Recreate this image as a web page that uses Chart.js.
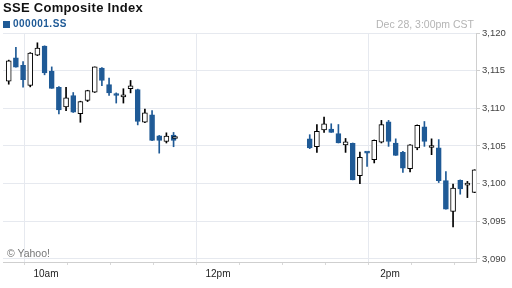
<!DOCTYPE html>
<html>
<head>
<meta charset="utf-8">
<script src="https://cdn.jsdelivr.net/npm/chart.js@4.4.1/dist/chart.umd.min.js"></script>
<style>
  html, body { margin: 0; padding: 0; background: #fff; }
  #wrap { position: relative; width: 512px; height: 288px; overflow: hidden; font-family: Arial, "Liberation Sans", sans-serif; }
  #chart { position: absolute; left: 0; top: 0; }
  .txt { position: absolute; line-height: 1; white-space: nowrap; }
  #title { left: 3px; top: 1px; font-size: 13px; font-weight: bold; color: #111; letter-spacing: 0.3px; }
  #sym { left: 13px; top: 19px; font-size: 10px; font-weight: bold; color: #1f5a96; letter-spacing: 0.5px; }
  #swatch { position: absolute; left: 3px; top: 21px; width: 7px; height: 7px; background: #1f5a96; }
  #stamp { right: 38px; top: 18.5px; font-size: 10.5px; color: #b4b4b4; }
  #credit { left: 7px; top: 248px; font-size: 10.5px; color: #777; }
</style>
</head>
<body>
<div id="wrap">
  <canvas id="chart" width="512" height="288"></canvas>
  <div class="txt" id="title">SSE Composite Index</div>
  <div id="swatch"></div>
  <div class="txt" id="sym">000001.SS</div>
  <div class="txt" id="stamp">Dec 28, 3:00pm CST</div>
  <div class="txt" id="credit">© Yahoo!</div>
</div>
<script>
// 5-minute bars, end time of each bar
const times = [
  "9:35","9:40","9:45","9:50","9:55","10:00","10:05","10:10","10:15","10:20","10:25","10:30",
  "10:35","10:40","10:45","10:50","10:55","11:00","11:05","11:10","11:15","11:20","11:25","11:30","11:31",
  "13:05","13:10","13:15","13:20","13:25","13:30","13:35","13:40","13:45","13:50","13:55","14:00",
  "14:05","14:10","14:15","14:20","14:25","14:30","14:35","14:40","14:45","14:50","14:55","15:00"
];
const openVals = [
  3113.6,3116.7,3115.7,3113.05,3117.05,3118.25,3114.95,3112.8,3110.2,3111.7,3109.3,3111.05,
  3112.15,3115.35,3113.15,3111.95,3111.5,3112.6,3112.5,3108.15,3109.15,3106.35,3105.6,3106.45,3106.0,
  3105.95,3104.9,3107.15,3107.25,3106.65,3105.15,3105.35,3101.05,3104.1,3103.2,3105.5,3108.2,
  3105.4,3104.15,3102.0,3104.75,3107.55,3104.8,3104.75,3100.4,3096.3,3100.45,3099.8,3098.85
];
const highVals = [
  3116.4,3118.1,3116.2,3117.4,3118.7,3118.3,3115.5,3112.9,3112.8,3112.1,3110.95,3112.4,
  3115.5,3115.4,3114.0,3112.05,3112.6,3113.7,3112.55,3109.9,3109.7,3106.4,3106.75,3106.8,3106.0,
  3106.5,3107.85,3108.85,3107.95,3107.85,3106.0,3105.4,3104.2,3104.2,3105.8,3108.4,3108.4,
  3105.95,3104.3,3105.2,3107.8,3108.25,3105.95,3105.85,3101.6,3099.95,3100.5,3100.3,3101.85
];
const lowVals = [
  3113.2,3115.45,3112.8,3112.85,3117.0,3114.45,3112.65,3109.25,3109.7,3109.45,3108.15,3110.9,
  3112.1,3113.0,3111.7,3110.7,3110.7,3112.05,3107.8,3108.1,3105.7,3104.05,3105.4,3104.9,3106.0,
  3104.65,3104.15,3106.8,3106.8,3105.4,3104.15,3100.5,3100.0,3102.3,3102.75,3105.4,3104.95,
  3103.75,3101.5,3101.55,3104.5,3104.95,3103.85,3100.15,3096.6,3094.25,3098.6,3098.15,3098.8
];
const closeVals = [
  3116.3,3115.45,3113.8,3117.35,3118.0,3114.7,3112.65,3109.8,3111.4,3109.5,3110.9,3112.35,
  3115.5,3113.7,3112.05,3111.7,3111.8,3113.0,3108.25,3109.4,3105.75,3105.75,3106.3,3105.75,3106.0,
  3104.75,3106.95,3107.95,3106.8,3105.4,3105.55,3100.5,3103.5,3104.05,3105.75,3107.85,3105.6,
  3103.75,3102.05,3105.15,3107.75,3105.6,3104.8,3100.4,3096.6,3099.4,3099.3,3099.8,3101.85
];
const xTickLabels = { 600: "10am", 720: "12pm", 840: "2pm" };
const yTickValues = [3090, 3095, 3100, 3105, 3110, 3115, 3120];

const BLUE = "#1f5a96";
const toMin = t => { const [h, m] = t.split(":").map(Number); return h * 60 + m; };
const down = closeVals.map((c, i) => c < openVals[i]);
const xs = times.map(t => toMin(t) - 1);

const wickData = xs.map((x, i) => ({ x, y: [lowVals[i], highVals[i]] }));
const bodyData = xs.map((x, i) => ({ x, y: [Math.min(openVals[i], closeVals[i]), Math.max(openVals[i], closeVals[i])] }));

new Chart(document.getElementById("chart"), {
  type: "bar",
  data: {
    datasets: [
      {
        data: wickData,
        order: 1,
        grouped: false,
        barThickness: 1,
        backgroundColor: down.map(d => d ? BLUE : "#000"),
        borderWidth: 0
      },
      {
        data: bodyData,
        order: 0,
        grouped: false,
        barThickness: 5,
        minBarLength: 2,
        backgroundColor: down.map(d => d ? BLUE : "#fff"),
        borderColor: down.map(d => d ? BLUE : "#000"),
        borderWidth: 1,
        borderSkipped: false
      }
    ]
  },
  options: {
    responsive: false,
    devicePixelRatio: 1,
    animation: false,
    layout: { padding: { left: 3, top: 33, right: 0, bottom: 0 } },
    plugins: { legend: { display: false }, tooltip: { enabled: false } },
    scales: {
      x: {
        type: "linear",
        offset: false,
        min: 570,
        max: 900,
        afterFit(axis) { axis.height = 26; },
        border: { color: "#cfcfcf" },
        grid: {
          color: ctx => (ctx.tick && (xTickLabels[ctx.tick.value] || ctx.tick.value === 570)) ? "#e6e9ef" : "rgba(0,0,0,0)",
          tickColor: "#d8d8d8",
          tickLength: 3
        },
        ticks: {
          stepSize: 30,
          autoSkip: false,
          maxRotation: 0,
          padding: 3,
          color: "#222",
          font: { family: "Arial, 'Liberation Sans'", size: 10 },
          callback: v => xTickLabels[v] || ""
        }
      },
      y: {
        position: "right",
        min: 3089.6,
        max: 3120,
        afterFit(axis) { axis.width = 36; },
        afterBuildTicks(axis) { axis.ticks = yTickValues.map(v => ({ value: v })); },
        border: { color: "#cfcfcf" },
        grid: { color: "#e6e9ef", tickColor: "#cfcfcf", tickLength: 4 },
        ticks: {
          padding: 2,
          color: "#444",
          font: { family: "Arial, 'Liberation Sans'", size: 9.5 },
          callback: v => v.toLocaleString("en-US")
        }
      }
    }
  }
});
</script>
</body>
</html>
